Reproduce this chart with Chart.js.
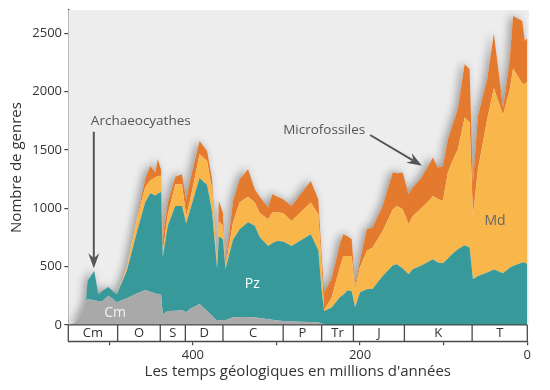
<!DOCTYPE html>
<html><head><meta charset="utf-8">
<script src="https://cdn.jsdelivr.net/npm/chart.js@4"></script>
<style>html,body{margin:0;padding:0;background:#fff;} canvas{display:block;}</style>
</head><body>
<canvas id="c" width="550" height="390"></canvas>
<script>
// Age (millions d'années) of each sample
const ages = [549,541,535,528,526,518,513,509,501,496,491,479,467,457,451,445,442,438,436,430,
  421,413,408,403,392,383,377,371,369,364,361,352,344,334,326,320,310,305,299,292,
  282,259,250,246,243,234,224,220,215,210,206,200,192,185,173,161,156,149,142,137,
  128,116,113,107,101,95,90,83,75,69,65,59,48,40,29,21,17,6,3,0];
// Genera per evolutionary fauna
const cambrianFauna = [0,20,77,200,225,210,205,200,250,225,195,230,270,300,285,270,265,260,90,120,
  123,126,109,140,180,120,80,34,40,43,40,66,68,69,65,60,50,45,38,34,
  30,25,22,15,0,0,0,0,0,0,0,0,0,0,0,0,0,0,0,0,
  0,0,0,0,0,0,0,0,0,0,0,0,0,0,0,0,0,0,0,0];
const paleozoicFauna = [0,0,0,0,155,253,58,90,76,67,68,233,525,752,845,840,860,880,490,730,
  897,894,761,852,1080,1080,890,443,720,692,437,664,752,811,785,692,628,655,682,681,
  648,753,618,285,120,150,240,260,298,290,152,280,306,310,420,510,520,484,435,477,
  506,550,563,535,530,570,606,650,683,664,392,420,449,475,443,490,506,535,535,520];
const modernFauna = [0,0,0,0,0,0,0,0,0,0,0,27,111,128,110,155,153,140,43,100,
  187,187,65,88,203,207,194,29,132,114,13,148,232,220,200,208,228,264,244,245,
  214,272,309,200,9,85,260,332,294,300,154,220,329,354,386,480,501,508,429,458,
  486,528,544,545,534,737,794,857,1096,1072,543,915,1316,1555,1357,1530,1694,1535,1529,1570];
const microfossils = [0,0,0,0,0,0,0,0,0,0,0,0,14,70,124,42,143,50,126,100,
  63,85,143,170,115,85,86,14,172,115,20,186,198,235,114,140,101,157,136,118,
  129,185,129,100,149,165,200,186,168,145,29,60,186,171,215,317,279,315,257,245,
  258,315,329,270,296,286,300,344,457,457,286,458,342,470,60,259,450,537,372,370];
// Geological periods (boundaries in Ma as drawn)
const periodNames = ['Cm','O','S','D','C','P','Tr','J','K','T'];
const periodBoundaries = [549,490,439,409,364,292,246,208,147,66,0];
// Axis ticks
const xTickValues = [500,400,300,200,100,0];
const xTickLabels = [400,200,0];
const yTickValues = [0,500,1000,1500,2000,2500];
const yTitle = 'Nombre de genres';

const pts = arr => arr.map((v,i) => ({x: ages[i], y: v}));

Chart.defaults.font.family = "'Open Sans', sans-serif";
Chart.defaults.color = '#333';

const BG = '#ededed';
const bgPlugin = {
  id: 'bg',
  beforeDatasetsDraw(chart) {
    const {ctx, chartArea: a, scales: {x, y}} = chart;
    const y0 = y.getPixelForValue(0);
    ctx.save();
    ctx.fillStyle = BG;
    ctx.fillRect(a.left, a.top, a.right - a.left + 1.5, y0 - a.top);
    ctx.beginPath();
    ctx.rect(a.left, a.top, a.right - a.left, y0 - a.top);
    ctx.clip();
    const meta = chart.getDatasetMeta(chart.data.datasets.length - 1);
    const p = meta.data;
    ctx.beginPath();
    ctx.moveTo(p[0].x, y0);
    p.forEach(e => ctx.lineTo(e.x, e.y));
    ctx.lineTo(p[p.length-1].x, y0);
    ctx.closePath();
    ctx.shadowColor = 'rgba(0,0,0,0.35)';
    ctx.shadowBlur = 9; ctx.shadowOffsetX = -3; ctx.shadowOffsetY = -1;
    ctx.fillStyle = BG;
    ctx.fill();
    ctx.restore();
  }
};

const stripPlugin = {
  id: 'strip',
  afterDatasetsDraw(chart) {
    const {ctx, chartArea: a, scales: {x, y}} = chart;
    const y0 = y.getPixelForValue(0);
    const yb = a.bottom;
    ctx.save();
    ctx.fillStyle = '#fff';
    const xl = x.getPixelForValue(periodBoundaries[0]);
    const xr = x.getPixelForValue(periodBoundaries[periodBoundaries.length-1]);
    ctx.fillRect(xl, y0, xr - xl, yb - y0);
    ctx.strokeStyle = '#4a4a4a';
    ctx.lineWidth = 1.3;
    ctx.beginPath();
    ctx.moveTo(xl, y0); ctx.lineTo(xr, y0);
    ctx.moveTo(xl, yb); ctx.lineTo(xr, yb);
    periodBoundaries.forEach(b => {
      const px = x.getPixelForValue(b);
      ctx.moveTo(px, y0); ctx.lineTo(px, yb);
    });
    ctx.stroke();
    ctx.fillStyle = '#333';
    ctx.font = "13px 'Open Sans', sans-serif";
    ctx.textAlign = 'center';
    ctx.textBaseline = 'middle';
    periodNames.forEach((n, i) => {
      const c = (x.getPixelForValue(periodBoundaries[i]) + x.getPixelForValue(periodBoundaries[i+1])) / 2;
      ctx.fillText(n, c, (y0 + yb) / 2 + 0.5);
    });
    // y axis title, centred on the plotting area above the period strip
    ctx.save();
    ctx.translate(17, (a.top + y0) / 2);
    ctx.rotate(-Math.PI / 2);
    ctx.font = "15px 'Open Sans', sans-serif";
    ctx.fillStyle = '#333';
    ctx.fillText(yTitle, 0, 0);
    ctx.restore();
    ctx.restore();
  }
};

const notes = [
  {text: 'Archaeocyathes', x: 522, y: 1749, align: 'left', color: '#555', size: 13.5},
  {text: 'Microfossiles', x: 292, y: 1672, align: 'left', color: '#555', size: 13.5},
  {text: 'Cm', x: 493, y: 100, align: 'center', color: '#f2f2f2', size: 14},
  {text: 'Pz', x: 329, y: 351, align: 'center', color: '#ffffff', size: 14},
  {text: 'Md', x: 38.6, y: 894, align: 'center', color: '#666', size: 14}
];
const arrows = [
  {from: [518.5, 1657], to: [518.5, 486]},
  {from: [188, 1629], to: [126, 1366]}
];

const annotPlugin = {
  id: 'annot',
  afterDatasetsDraw(chart) {
    const {ctx, scales: {x, y}} = chart;
    ctx.save();
    notes.forEach(n => {
      ctx.font = n.size + "px 'Open Sans', sans-serif";
      ctx.fillStyle = n.color;
      ctx.textAlign = n.align;
      ctx.textBaseline = 'middle';
      ctx.fillText(n.text, x.getPixelForValue(n.x), y.getPixelForValue(n.y));
    });
    ctx.strokeStyle = '#555';
    ctx.fillStyle = '#555';
    ctx.lineWidth = 2;
    arrows.forEach(ar => {
      const x1 = x.getPixelForValue(ar.from[0]), y1 = y.getPixelForValue(ar.from[1]);
      const x2 = x.getPixelForValue(ar.to[0]), y2 = y.getPixelForValue(ar.to[1]);
      const ang = Math.atan2(y2 - y1, x2 - x1);
      const hl = 13, hw = 5.5;
      const bx = x2 - hl * Math.cos(ang), by = y2 - hl * Math.sin(ang);
      ctx.beginPath();
      ctx.moveTo(x1, y1);
      ctx.lineTo(bx + 3 * Math.cos(ang), by + 3 * Math.sin(ang));
      ctx.stroke();
      ctx.beginPath();
      ctx.moveTo(x2, y2);
      ctx.lineTo(bx - hw * Math.sin(ang) - 2 * Math.cos(ang), by + hw * Math.cos(ang) - 2 * Math.sin(ang));
      ctx.lineTo(bx + 3 * Math.cos(ang), by + 3 * Math.sin(ang));
      ctx.lineTo(bx + hw * Math.sin(ang) - 2 * Math.cos(ang), by - hw * Math.cos(ang) - 2 * Math.sin(ang));
      ctx.closePath();
      ctx.fill();
    });
    ctx.restore();
  }
};

const areaStyle = {borderWidth: 0, borderColor: 'transparent', pointRadius: 0};
new Chart(document.getElementById('c'), {
  type: 'line',
  data: {
    datasets: [
      Object.assign({label: 'Cm', data: pts(cambrianFauna), backgroundColor: '#a9a9a9', fill: 'origin'}, areaStyle),
      Object.assign({label: 'Pz', data: pts(paleozoicFauna), backgroundColor: '#38999a', fill: '-1'}, areaStyle),
      Object.assign({label: 'Md', data: pts(modernFauna), backgroundColor: '#f9b64b', fill: '-1'}, areaStyle),
      Object.assign({label: 'Microfossiles', data: pts(microfossils), backgroundColor: '#e47a2e', fill: '-1'}, areaStyle)
    ]
  },
  options: {
    responsive: false,
    animation: false,
    devicePixelRatio: 1,
    layout: {padding: {top: 10, right: 22.7, left: 0, bottom: 0}},
    elements: {line: {tension: 0}, point: {radius: 0}},
    plugins: {legend: {display: false}, tooltip: {enabled: false}},
    scales: {
      x: {
        type: 'linear', reverse: true, min: 0, max: 549,
        afterFit(s) { s.height = 48.7; },
        afterBuildTicks(s) { s.ticks = xTickValues.map(v => ({value: v})); },
        ticks: {autoSkip: false, maxRotation: 0, padding: 2,
          color: '#333', font: {size: 13},
          callback: v => xTickLabels.includes(v) ? String(v) : ''},
        grid: {drawOnChartArea: false, tickLength: 4, color: '#444', lineWidth: 1.2},
        border: {color: '#444', width: 1.3},
        title: {display: true, text: "Les temps géologiques en millions d'années", color: '#333',
          font: {size: 15}, padding: {top: 0, bottom: 9}}
      },
      y: {
        stacked: true, min: -140, max: 2700,
        afterFit(s) { s.width = 68.3; },
        afterBuildTicks(s) { s.ticks = yTickValues.map(v => ({value: v})); },
        ticks: {autoSkip: false, padding: 2.3, color: '#333', font: {size: 13},
          callback: v => String(v)},
        grid: {drawOnChartArea: false, tickLength: 4, color: '#444', lineWidth: 1.2},
        border: {color: '#444', width: 1.3},
        title: {display: false}
      }
    }
  },
  plugins: [bgPlugin, stripPlugin, annotPlugin]
});
</script>
</body></html>
